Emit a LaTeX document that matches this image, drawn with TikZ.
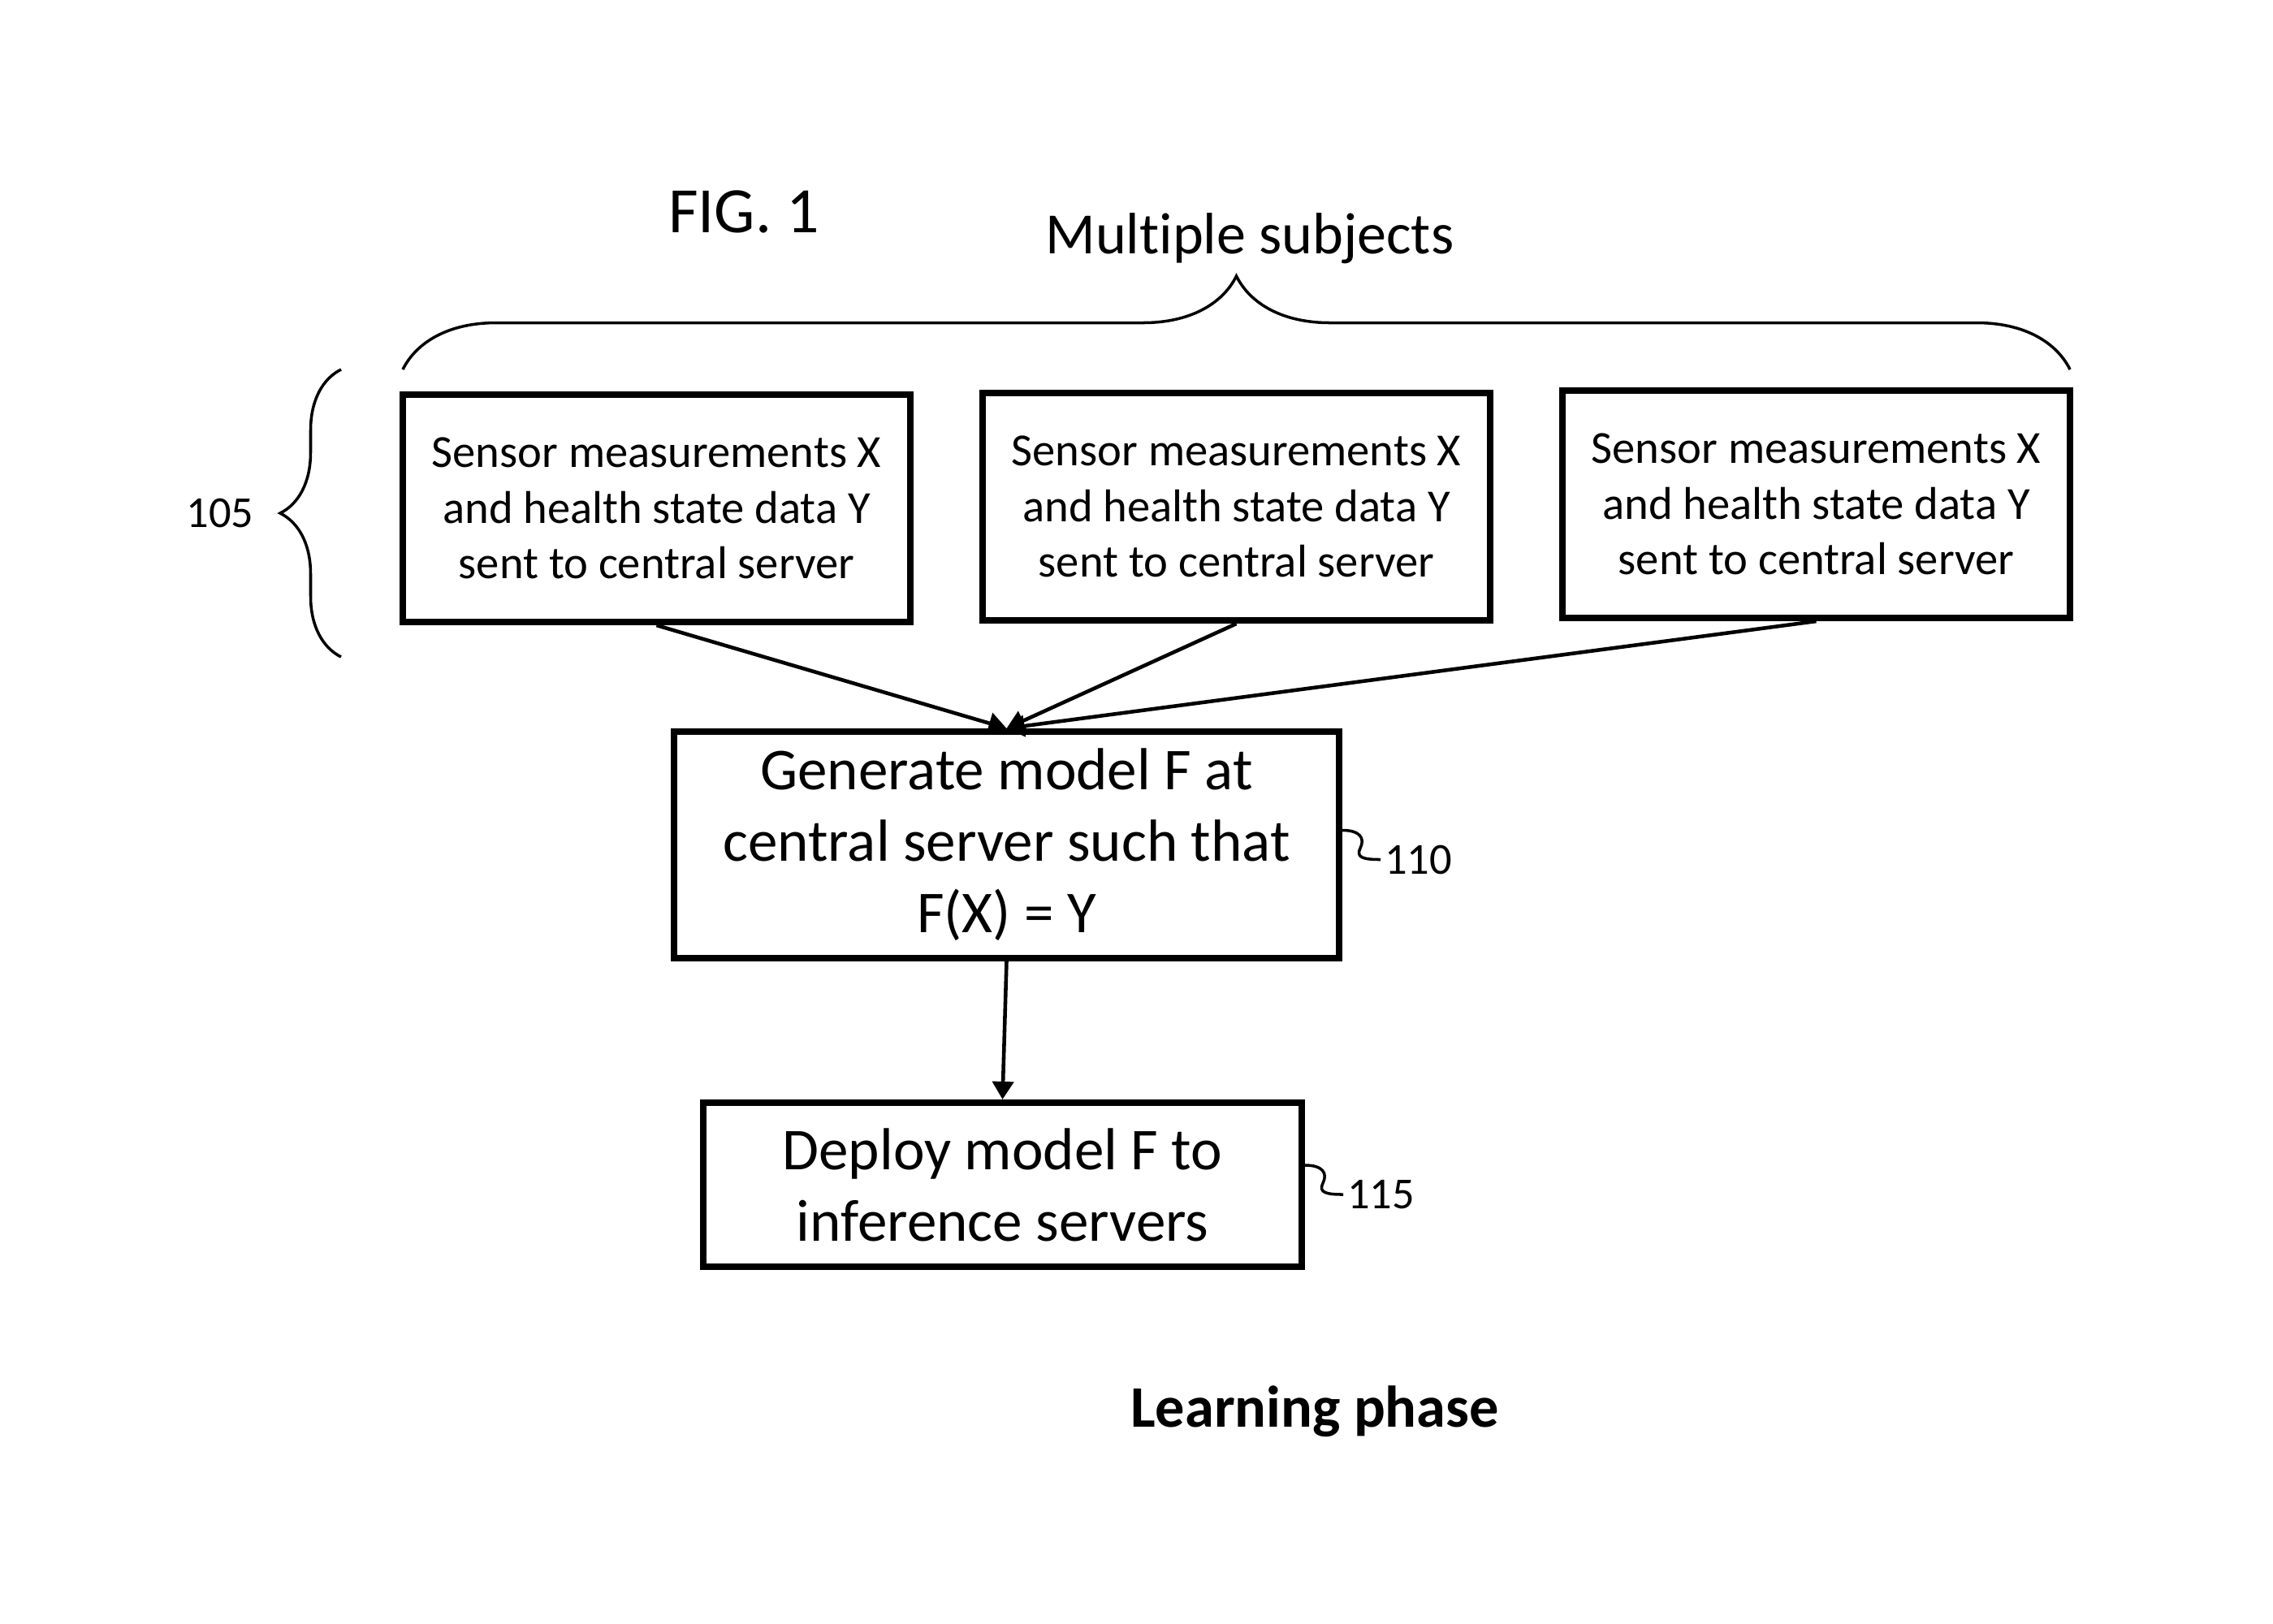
\documentclass[tikz,border=0pt]{standalone}
\usepackage{fontspec}
\setmainfont{Carlito}[Ligatures=NoCommon]
\usetikzlibrary{arrows.meta,decorations.pathreplacing}

\newcommand*{\xmax}{27.99}
\newcommand*{\ymin}{-19.99}

\begin{document}
\begin{tikzpicture}
[
	inbox/.style={draw,line width=2.3pt,align=center,minimum width=6.25cm,minimum height=2.8cm,font=\fontsize{16.1}{19.5}\selectfont},
	bigbox/.style={draw,line width=2.3pt,align=center,font=\fontsize{20.8}{25}\selectfont},
	flow/.style={line width=1.3pt,-{Triangle[length=2.2mm,width=2.6mm]}},
	squig/.style={line width=1pt},
	refnum/.style={font=\fontsize{15.5}{19}\selectfont}
]

	\useasboundingbox (0,0) rectangle (\xmax,\ymin);

	% subjects
	\foreach \x/\y/\n in {8.085/-6.26/1,15.225/-6.24/2,22.365/-6.21/3} {
		\node[inbox] (s\n) at (\x,\y) {Sensor measurements X\\and health state data Y\\sent to central server};
	}

	\node[bigbox,minimum width=8.19cm,minimum height=2.79cm] (gen) at (12.395,-10.405)
		{Generate model F at\\central server such that\\F(X) = Y};
	\node[bigbox,minimum width=7.37cm,minimum height=2.02cm] (dep) at (12.345,-14.59)
		{Deploy model F to\\inference servers};

	\foreach \n in {1,2,3} {
		\draw[flow] (s\n.south) -- (gen.north);
	}
	\draw[flow] (gen.south) -- (dep.north);

	% braces
	\draw[line width=1pt,decorate,decoration={brace,amplitude=1.15cm}] (4.96,-4.55) -- (25.49,-4.55);
	\draw[line width=1pt,decorate,decoration={brace,amplitude=0.75cm}] (4.2,-8.09) -- (4.2,-4.55);

	\node[font=\fontsize{20.5}{25}\selectfont] (subj) at (15.39,-2.94) {Multiple subjects};
	\node[font=\fontsize{22.7}{27}\selectfont] (fig) at (9.16,-2.61) {FIG. 1};
	\node[refnum] (r105) at (2.71,-6.32) {105};
	\node[font=\bfseries\fontsize{20.6}{24}\selectfont] (phase) at (16.19,-17.38) {Learning phase};

	% reference numerals
	\draw[squig] ([yshift=1.8mm]gen.east) .. controls +(0.22,0) and +(0.06,0.12) .. ++(0.22,-0.22)
		.. controls +(-0.06,-0.12) and +(-0.2,0) .. ++(0.25,-0.14) node[refnum,right,inner sep=1pt] (r110) {110};
	\draw[squig] ([yshift=2.4mm]dep.east) .. controls +(0.22,0) and +(0.06,0.12) .. ++(0.22,-0.22)
		.. controls +(-0.06,-0.12) and +(-0.2,0) .. ++(0.25,-0.14) node[refnum,right,inner sep=1pt] (r115) {115};

\end{tikzpicture}
\end{document}
